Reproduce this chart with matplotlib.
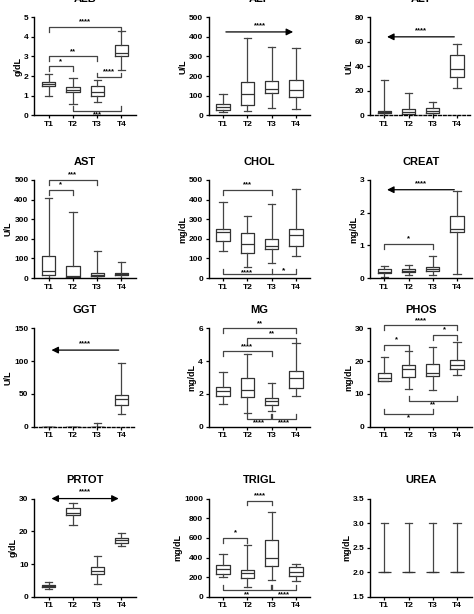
import matplotlib
matplotlib.use("Agg")
import matplotlib.pyplot as plt

plt.rcParams['font.family'] = ['Liberation Sans', 'DejaVu Sans']
plt.rcParams['font.weight'] = 'bold'

groups = ["T1", "T2", "T3", "T4"]
# stats per panel: (whislo, q1, med, q3, whishi) for T1..T4
ALB = [(1.0,1.5,1.6,1.7,2.1),(0.6,1.2,1.3,1.45,1.9),(0.7,1.0,1.2,1.5,1.8),(2.3,3.0,3.2,3.6,4.3)]
ALP = [(15,30,45,60,108),(25,55,110,168,395),(38,112,137,175,348),(32,93,127,178,343)]
ALT = [(0,2,3,4,29),(0,1.5,3,5,18),(0,2,4,6,11),(22,31,38,49,58)]
AST = [(0,15,38,112,410),(0,8,10,60,335),(0,10,18,25,140),(0,18,22,25,80)]
CHOL = [(140,188,235,252,385),(55,128,172,228,315),(75,148,163,200,375),(112,165,222,250,453)]
CREAT = [(0.05,0.15,0.2,0.28,0.36),(0.1,0.2,0.22,0.27,0.4),(0.1,0.22,0.28,0.35,0.68),(0.13,1.4,1.5,1.9,2.65)]
GGT = [(0,0,0,0,0),(0,0,0,0,0),(0,0,0,0,5),(20,33,43,48,97)]
MG = [(1.4,1.9,2.2,2.4,3.35),(0.85,1.8,2.25,3.0,4.45),(0.95,1.3,1.55,1.75,2.7),(1.85,2.35,2.95,3.4,5.1)]
PHOS = [(14,14,15,16.5,21.3),(11.5,15.3,17.5,19,23),(11.2,15.5,16.5,19.3,24.2),(15.8,17.5,19,20.3,26)]
PRTOT = [(2.4,3,3.3,3.6,4.5),(21.8,25,25.5,27,28.5),(4,7,8,9,12.5),(15.5,16.3,17.5,18,19.5)]
TRIGL = [(200,230,280,320,440),(100,190,240,275,530),(170,310,390,580,860),(165,215,250,300,330)]
UREA = [(2,2,2,2,3),(2,2,2,2,3),(2,2,2,2,3),(2,2,2,2,3)]

panels = [
    ("ALB", "g/dL", ALB, (0, 5), [0,1,2,3,4,5]),
    ("ALP", "U/L", ALP, (0, 500), [0,100,200,300,400,500]),
    ("ALT", "U/L", ALT, (0, 80), [0,20,40,60,80]),
    ("AST", "U/L", AST, (0, 500), [0,100,200,300,400,500]),
    ("CHOL", "mg/dL", CHOL, (0, 500), [0,100,200,300,400,500]),
    ("CREAT", "mg/dL", CREAT, (0, 3), [0,1,2,3]),
    ("GGT", "U/L", GGT, (0, 150), [0,50,100,150]),
    ("MG", "mg/dL", MG, (0, 6), [0,2,4,6]),
    ("PHOS", "mg/dL", PHOS, (0, 30), [0,10,20,30]),
    ("PRTOT", "g/dL", PRTOT, (0, 30), [0,10,20,30]),
    ("TRIGL", "mg/dL", TRIGL, (0, 1000), [0,200,400,600,800,1000]),
    ("UREA", "mg/dL", UREA, (1.5, 3.5), [1.5,2.0,2.5,3.0,3.5]),
]

lefts = [0.072, 0.44, 0.78]
bottoms = [0.812, 0.547, 0.305, 0.028]
W, H = 0.215, 0.16

fig = plt.figure(figsize=(4.74, 6.14), dpi=100)

def bracket(ax, x1, x2, y, text, down=False, leg=None):
    lo, hi = ax.get_ylim()
    r = hi - lo
    h = leg if leg is not None else 0.05 * r
    d = -h if not down else h
    ax.plot([x1, x1, x2, x2], [y + d, y, y, y + d], color='#444', lw=0.9, clip_on=False)
    ty = y + 0.015 * r if not down else y - 0.01 * r
    ax.text((x1 + x2) / 2, ty, text, ha='center', va='bottom' if not down else 'top',
            fontsize=5.5, fontweight='bold')

def arrow(ax, x1, x2, y, text, both=False):
    lo, hi = ax.get_ylim()
    ax.annotate("", xy=(x2, y), xytext=(x1, y),
                arrowprops=dict(arrowstyle="<|-|>" if both else "-|>", color='black',
                                lw=0.9, mutation_scale=10), annotation_clip=False)
    ax.text((x1 + x2) / 2, y + 0.03 * (hi - lo), text, ha='center', va='bottom', fontsize=5.5)

axes = {}
for i, (name, unit, data, ylim, ticks) in enumerate(panels):
    r, c = divmod(i, 3)
    ax = fig.add_axes([lefts[c], bottoms[r], W, H])
    axes[name] = ax
    stats = [dict(whislo=s[0], q1=s[1], med=s[2], q3=s[3], whishi=s[4], label=g)
             for s, g in zip(data, groups)]
    showbox = name != "UREA"
    ax.bxp(stats, positions=[1, 2, 3, 4], widths=0.55, showfliers=False, showbox=showbox,
           boxprops=dict(color='#333', lw=0.9), whiskerprops=dict(color='#444', lw=0.9),
           capprops=dict(color='#444', lw=0.9), medianprops=dict(color='#333', lw=0.9),
           capwidths=0.3)
    ax.set_ylim(*ylim)
    ax.set_yticks(ticks)
    if name == "UREA":
        ax.set_yticklabels([f"{t:.1f}" for t in ticks])
    ax.set_xlim(0.4, 4.6)
    ax.set_title(name, fontsize=8, fontweight='bold', pad=11)
    ax.set_ylabel(unit, fontsize=6.5, fontweight='bold', labelpad=1)
    ax.tick_params(labelsize=6, length=2.5, width=0.9, pad=1.5)
    for lab in ax.get_xticklabels() + ax.get_yticklabels():
        lab.set_fontweight('bold')
    for s in ['top', 'right']:
        ax.spines[s].set_visible(False)
    for s in ['left', 'bottom']:
        ax.spines[s].set_linewidth(1.0)
    if name in ("ALT", "GGT"):
        ax.spines['bottom'].set_linestyle((0, (2, 1.5)))

ax = axes["ALB"]
bracket(ax, 1, 4, 4.5, "****")
bracket(ax, 1, 3, 3.0, "**")
bracket(ax, 1, 2, 2.5, "*")
bracket(ax, 3, 4, 1.95, "****", leg=-0.2)
bracket(ax, 2, 4, 0.25, "***", down=True)
arrow(axes["ALP"], 1, 4, 425, "****")
arrow(axes["ALT"], 4, 1, 64, "****")
ax = axes["AST"]
bracket(ax, 1, 3, 500, "***")
bracket(ax, 1, 2, 450, "*")
ax = axes["CHOL"]
bracket(ax, 1, 3, 450, "***")
bracket(ax, 1, 4, 20, "", down=True)
ax.plot([3, 3], [20, 45], color='#444', lw=0.9)
ax.text(2, 30, "****", ha='center', va='center', fontsize=5.5)
ax.text(3.5, 40, "*", ha='center', va='center', fontsize=6)
ax = axes["CREAT"]
arrow(ax, 4, 1, 2.7, "****")
bracket(ax, 1, 3, 1.05, "*")
arrow(axes["GGT"], 4, 1, 117, "****")
ax = axes["MG"]
bracket(ax, 1, 4, 6.0, "**")
bracket(ax, 2, 4, 5.4, "**")
bracket(ax, 1, 3, 4.6, "****")
bracket(ax, 2, 2.98, 0.5, "****", down=True)
bracket(ax, 3.02, 4, 0.5, "****", down=True)
ax = axes["PHOS"]
bracket(ax, 1, 4, 31, "****")
bracket(ax, 3, 4, 28, "*")
bracket(ax, 1, 2, 25, "*")
bracket(ax, 2, 4, 8, "**", down=True)
bracket(ax, 1, 3, 4, "*", down=True)
arrow(axes["PRTOT"], 1, 4, 30, "****", both=True)
ax = axes["TRIGL"]
bracket(ax, 2, 3, 980, "****")
bracket(ax, 1, 2, 600, "*")
bracket(ax, 1, 2.98, 70, "**", down=True)
bracket(ax, 3.02, 4, 70, "****", down=True)

fig.savefig("out.png", dpi=100)
